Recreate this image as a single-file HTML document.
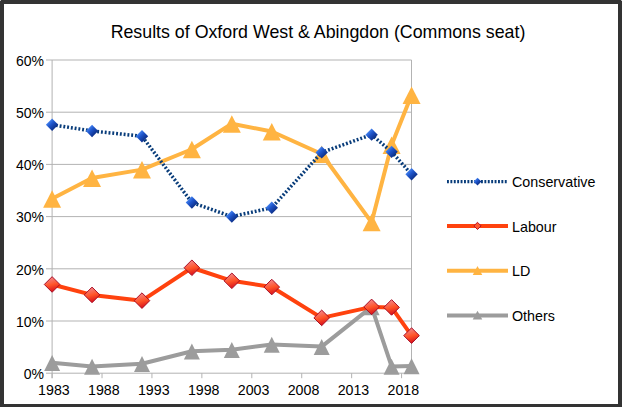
<!DOCTYPE html>
<html><head><meta charset="utf-8"><title>Results of Oxford West &amp; Abingdon</title>
<style>
html,body{margin:0;padding:0;background:#fff;}
body{width:622px;height:407px;overflow:hidden;position:relative;}
svg{position:absolute;left:0;top:0;display:block;}
.frame{position:absolute;left:0;top:0;width:622px;height:407px;box-sizing:border-box;border:solid #333;border-width:4px 4px 3px 4px;}
</style></head><body>
<svg width="622" height="407" viewBox="0 0 622 407"><defs>
<linearGradient id="gb" x1="0.2" y1="0.2" x2="0.8" y2="0.8">
<stop offset="0" stop-color="#4a8af5"/><stop offset="0.4" stop-color="#1f56cc"/><stop offset="1" stop-color="#0a2a80"/></linearGradient>
<linearGradient id="gr" x1="0.35" y1="0.1" x2="0.6" y2="0.95">
<stop offset="0" stop-color="#f48080"/><stop offset="0.5" stop-color="#ff5428"/><stop offset="1" stop-color="#d8101c"/></linearGradient>
</defs><line x1="46" y1="373.20" x2="411.5" y2="373.20" stroke="#b3b3b3" stroke-width="1"/>
<text x="44" y="379.00" text-anchor="end" font-size="14" font-family="Liberation Sans, Arial, sans-serif" fill="#000">0%</text>
<line x1="46" y1="321.00" x2="411.5" y2="321.00" stroke="#b3b3b3" stroke-width="1"/>
<text x="44" y="326.80" text-anchor="end" font-size="14" font-family="Liberation Sans, Arial, sans-serif" fill="#000">10%</text>
<line x1="46" y1="268.80" x2="411.5" y2="268.80" stroke="#b3b3b3" stroke-width="1"/>
<text x="44" y="274.60" text-anchor="end" font-size="14" font-family="Liberation Sans, Arial, sans-serif" fill="#000">20%</text>
<line x1="46" y1="216.60" x2="411.5" y2="216.60" stroke="#b3b3b3" stroke-width="1"/>
<text x="44" y="222.40" text-anchor="end" font-size="14" font-family="Liberation Sans, Arial, sans-serif" fill="#000">30%</text>
<line x1="46" y1="164.40" x2="411.5" y2="164.40" stroke="#b3b3b3" stroke-width="1"/>
<text x="44" y="170.20" text-anchor="end" font-size="14" font-family="Liberation Sans, Arial, sans-serif" fill="#000">40%</text>
<line x1="46" y1="112.20" x2="411.5" y2="112.20" stroke="#b3b3b3" stroke-width="1"/>
<text x="44" y="118.00" text-anchor="end" font-size="14" font-family="Liberation Sans, Arial, sans-serif" fill="#000">50%</text>
<line x1="46" y1="60.00" x2="411.5" y2="60.00" stroke="#b3b3b3" stroke-width="1"/>
<text x="44" y="65.80" text-anchor="end" font-size="14" font-family="Liberation Sans, Arial, sans-serif" fill="#000">60%</text>
<line x1="411.5" y1="60.00" x2="411.5" y2="373.20" stroke="#b3b3b3" stroke-width="1"/>
<line x1="52.1" y1="60.00" x2="52.1" y2="378.20" stroke="#b3b3b3" stroke-width="1"/>
<line x1="52.10" y1="373.20" x2="52.10" y2="378.20" stroke="#b3b3b3" stroke-width="1"/>
<text x="53.90" y="394.80" text-anchor="middle" font-size="14.2" font-family="Liberation Sans, Arial, sans-serif" fill="#000">1983</text>
<line x1="102.03" y1="373.20" x2="102.03" y2="378.20" stroke="#b3b3b3" stroke-width="1"/>
<text x="103.83" y="394.80" text-anchor="middle" font-size="14.2" font-family="Liberation Sans, Arial, sans-serif" fill="#000">1988</text>
<line x1="151.95" y1="373.20" x2="151.95" y2="378.20" stroke="#b3b3b3" stroke-width="1"/>
<text x="153.75" y="394.80" text-anchor="middle" font-size="14.2" font-family="Liberation Sans, Arial, sans-serif" fill="#000">1993</text>
<line x1="201.87" y1="373.20" x2="201.87" y2="378.20" stroke="#b3b3b3" stroke-width="1"/>
<text x="203.67" y="394.80" text-anchor="middle" font-size="14.2" font-family="Liberation Sans, Arial, sans-serif" fill="#000">1998</text>
<line x1="251.80" y1="373.20" x2="251.80" y2="378.20" stroke="#b3b3b3" stroke-width="1"/>
<text x="253.60" y="394.80" text-anchor="middle" font-size="14.2" font-family="Liberation Sans, Arial, sans-serif" fill="#000">2003</text>
<line x1="301.73" y1="373.20" x2="301.73" y2="378.20" stroke="#b3b3b3" stroke-width="1"/>
<text x="303.53" y="394.80" text-anchor="middle" font-size="14.2" font-family="Liberation Sans, Arial, sans-serif" fill="#000">2008</text>
<line x1="351.65" y1="373.20" x2="351.65" y2="378.20" stroke="#b3b3b3" stroke-width="1"/>
<text x="353.45" y="394.80" text-anchor="middle" font-size="14.2" font-family="Liberation Sans, Arial, sans-serif" fill="#000">2013</text>
<line x1="401.57" y1="373.20" x2="401.57" y2="378.20" stroke="#b3b3b3" stroke-width="1"/>
<text x="403.38" y="394.80" text-anchor="middle" font-size="14.2" font-family="Liberation Sans, Arial, sans-serif" fill="#000">2018</text>
<polyline points="52.10,362.76 92.04,366.41 141.97,363.80 191.89,351.28 231.83,349.71 271.77,344.49 321.69,346.58 371.62,306.91 391.59,366.41 411.56,365.89" fill="none" stroke="#9c9c9c" stroke-width="4" stroke-linejoin="round"/>
<polygon points="52.10,355.06 60.10,371.06 44.10,371.06" fill="#9c9c9c"/>
<polygon points="92.04,358.71 100.04,374.71 84.04,374.71" fill="#9c9c9c"/>
<polygon points="141.97,356.10 149.97,372.10 133.97,372.10" fill="#9c9c9c"/>
<polygon points="191.89,343.58 199.89,359.58 183.89,359.58" fill="#9c9c9c"/>
<polygon points="231.83,342.01 239.83,358.01 223.83,358.01" fill="#9c9c9c"/>
<polygon points="271.77,336.79 279.77,352.79 263.77,352.79" fill="#9c9c9c"/>
<polygon points="321.69,338.88 329.69,354.88 313.69,354.88" fill="#9c9c9c"/>
<polygon points="371.62,299.21 379.62,315.21 363.62,315.21" fill="#9c9c9c"/>
<polygon points="391.59,358.71 399.59,374.71 383.59,374.71" fill="#9c9c9c"/>
<polygon points="411.56,358.19 419.56,374.19 403.56,374.19" fill="#9c9c9c"/>
<polyline points="52.10,198.85 92.04,177.97 141.97,169.62 191.89,149.26 231.83,123.68 271.77,131.51 321.69,153.96 371.62,222.34 391.59,145.09 411.56,94.97" fill="none" stroke="#ffb442" stroke-width="4" stroke-linejoin="round"/>
<polygon points="52.10,190.30 61.10,207.80 43.10,207.80" fill="#ffb442"/>
<polygon points="92.04,169.42 101.04,186.92 83.04,186.92" fill="#ffb442"/>
<polygon points="141.97,161.07 150.97,178.57 132.97,178.57" fill="#ffb442"/>
<polygon points="191.89,140.71 200.89,158.21 182.89,158.21" fill="#ffb442"/>
<polygon points="231.83,115.13 240.83,132.63 222.83,132.63" fill="#ffb442"/>
<polygon points="271.77,122.96 280.77,140.46 262.77,140.46" fill="#ffb442"/>
<polygon points="321.69,145.41 330.69,162.91 312.69,162.91" fill="#ffb442"/>
<polygon points="371.62,213.79 380.62,231.29 362.62,231.29" fill="#ffb442"/>
<polygon points="391.59,136.54 400.59,154.04 382.59,154.04" fill="#ffb442"/>
<polygon points="411.56,86.42 420.56,103.92 402.56,103.92" fill="#ffb442"/>
<polyline points="52.10,284.46 92.04,294.90 141.97,300.64 191.89,267.76 231.83,280.81 271.77,287.07 321.69,317.87 371.62,306.91 391.59,307.43 411.56,335.62" fill="none" stroke="#ff420e" stroke-width="4" stroke-linejoin="round"/>
<polygon points="52.10,276.66 59.90,284.46 52.10,292.26 44.30,284.46" fill="url(#gr)" stroke="#a80e26" stroke-width="1"/>
<polygon points="92.04,287.10 99.84,294.90 92.04,302.70 84.24,294.90" fill="url(#gr)" stroke="#a80e26" stroke-width="1"/>
<polygon points="141.97,292.84 149.77,300.64 141.97,308.44 134.16,300.64" fill="url(#gr)" stroke="#a80e26" stroke-width="1"/>
<polygon points="191.89,259.96 199.69,267.76 191.89,275.56 184.09,267.76" fill="url(#gr)" stroke="#a80e26" stroke-width="1"/>
<polygon points="231.83,273.01 239.63,280.81 231.83,288.61 224.03,280.81" fill="url(#gr)" stroke="#a80e26" stroke-width="1"/>
<polygon points="271.77,279.27 279.57,287.07 271.77,294.87 263.97,287.07" fill="url(#gr)" stroke="#a80e26" stroke-width="1"/>
<polygon points="321.69,310.07 329.50,317.87 321.69,325.67 313.89,317.87" fill="url(#gr)" stroke="#a80e26" stroke-width="1"/>
<polygon points="371.62,299.11 379.42,306.91 371.62,314.71 363.82,306.91" fill="url(#gr)" stroke="#a80e26" stroke-width="1"/>
<polygon points="391.59,299.63 399.39,307.43 391.59,315.23 383.79,307.43" fill="url(#gr)" stroke="#a80e26" stroke-width="1"/>
<polygon points="411.56,327.82 419.36,335.62 411.56,343.42 403.76,335.62" fill="url(#gr)" stroke="#a80e26" stroke-width="1"/>
<polyline points="52.10,124.73 92.04,130.99 141.97,136.21 191.89,202.51 231.83,216.60 271.77,207.73 321.69,152.39 371.62,134.65 391.59,151.87 411.56,174.32" fill="none" stroke="#083c7a" stroke-width="3.5" stroke-dasharray="1.9 1.9"/>
<polygon points="52.10,118.53 58.30,124.73 52.10,130.93 45.90,124.73" fill="url(#gb)"/>
<polygon points="92.04,124.79 98.24,130.99 92.04,137.19 85.84,130.99" fill="url(#gb)"/>
<polygon points="141.97,130.01 148.16,136.21 141.97,142.41 135.77,136.21" fill="url(#gb)"/>
<polygon points="191.89,196.31 198.09,202.51 191.89,208.71 185.69,202.51" fill="url(#gb)"/>
<polygon points="231.83,210.40 238.03,216.60 231.83,222.80 225.63,216.60" fill="url(#gb)"/>
<polygon points="271.77,201.53 277.97,207.73 271.77,213.93 265.57,207.73" fill="url(#gb)"/>
<polygon points="321.69,146.19 327.89,152.39 321.69,158.59 315.50,152.39" fill="url(#gb)"/>
<polygon points="371.62,128.45 377.82,134.65 371.62,140.85 365.42,134.65" fill="url(#gb)"/>
<polygon points="391.59,145.67 397.79,151.87 391.59,158.07 385.39,151.87" fill="url(#gb)"/>
<polygon points="411.56,168.12 417.76,174.32 411.56,180.52 405.36,174.32" fill="url(#gb)"/>
<line x1="447" y1="181.6" x2="508" y2="181.6" stroke="#083c7a" stroke-width="3.4" stroke-dasharray="1.9 1.5"/>
<polygon points="477.50,177.70 481.40,181.60 477.50,185.50 473.60,181.60" fill="url(#gb)"/>
<text x="512" y="187.20" font-size="14.3" font-family="Liberation Sans, Arial, sans-serif" fill="#000">Conservative</text>
<line x1="447" y1="225.9" x2="508" y2="225.9" stroke="#ff420e" stroke-width="4"/>
<polygon points="477.50,222.30 481.10,225.90 477.50,229.50 473.90,225.90" fill="#ff5a30" stroke="#b8102a" stroke-width="1"/>
<text x="512" y="231.50" font-size="14.3" font-family="Liberation Sans, Arial, sans-serif" fill="#000">Labour</text>
<line x1="447" y1="270.7" x2="508" y2="270.7" stroke="#ffb442" stroke-width="4"/>
<polygon points="477.50,266.10 482.25,274.90 472.75,274.90" fill="#ffb442"/>
<text x="512" y="276.30" font-size="14.3" font-family="Liberation Sans, Arial, sans-serif" fill="#000">LD</text>
<line x1="447" y1="315.4" x2="508" y2="315.4" stroke="#9c9c9c" stroke-width="4"/>
<polygon points="477.50,310.80 482.25,319.60 472.75,319.60" fill="#9c9c9c"/>
<text x="512" y="321.00" font-size="14.3" font-family="Liberation Sans, Arial, sans-serif" fill="#000">Others</text>
<text x="318" y="37.8" text-anchor="middle" font-size="17.8" font-family="Liberation Sans, Arial, sans-serif" fill="#000">Results of Oxford West &amp; Abingdon (Commons seat)</text></svg>
<div class="frame"></div>
<div style="position:absolute;left:0;top:0;width:1px;height:1px;background:#bbb"></div>
<div style="position:absolute;right:0;top:0;width:1px;height:1px;background:#bbb"></div>
</body></html>
